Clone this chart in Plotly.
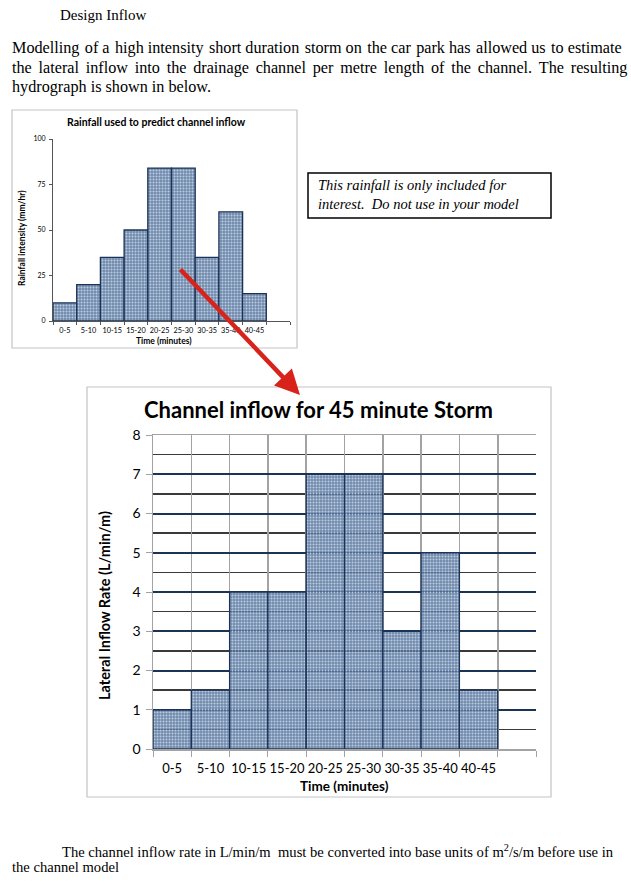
import plotly.graph_objects as go

W, H = 631, 885

# ---- data ----
time_bins = ["0-5", "5-10", "10-15", "15-20", "20-25", "25-30", "30-35", "35-40", "40-45", " "]
rainfall = [10, 20, 35, 50, 84, 84, 35, 60, 15, None]
inflow = [1, 1.5, 4, 4, 7, 7, 3, 5, 1.5, None]
rain_ticks = [0, 25, 50, 75, 100]
inflow_ticks = [0, 1, 2, 3, 4, 5, 6, 7, 8]


def px(x):
    return x / W


def py(y):
    return 1 - y / H


SERIF = "Liberation Serif"
SANS = "Lato"
NAVY = "#1c3358"
HS = "\u200a"  # hair space used to mimic justified text

fig = go.Figure()

bar_marker = dict(
    color="rgba(78,110,152,0.8)",
    line=dict(color=NAVY, width=1.3),
    pattern=dict(shape=".", fgcolor="#bccbdd", bgcolor="rgba(78,110,152,0.8)",
                 size=3, solidity=0.35),
)

fig.add_trace(go.Bar(x=time_bins, y=rainfall, width=1, marker=bar_marker,
                     xaxis="x", yaxis="y", showlegend=False, hoverinfo="skip"))
fig.add_trace(go.Bar(x=time_bins, y=inflow, width=1, marker=bar_marker,
                     xaxis="x2", yaxis="y2", showlegend=False, hoverinfo="skip"))


def justify(line, every=1):
    words = line.split(" ")
    out = words[0]
    for i, w in enumerate(words[1:]):
        out += (" " + HS if i % every == 0 else " ") + w
    return out


ann = []
# page text
ann.append(dict(text="Design Inflow", x=px(58), y=py(15), xanchor="left", yanchor="middle",
                font=dict(family=SERIF, size=15, color="black")))
para = [
    justify("Modelling of a high intensity short duration storm on the car park has allowed us to estimate", 2),
    (" " + HS + HS).join("the lateral inflow into the drainage channel per metre length of the channel. The resulting".split(" ")),
    "hydrograph is shown in below.",
]
for i, t in enumerate(para):
    ann.append(dict(text=t, x=px(10), y=py(48 + i * 19.5), xanchor="left", yanchor="middle",
                    font=dict(family=SERIF, size=16.2, color="black")))
ann.append(dict(text="The channel inflow rate in L/min/m\u00a0 must be converted into base units of m<sup>2</sup>/s/m before use in",
                x=px(60), y=py(851), xanchor="left", yanchor="middle",
                font=dict(family=SERIF, size=14.6, color="black")))
ann.append(dict(text="the channel model", x=px(10), y=py(867), xanchor="left", yanchor="middle",
                font=dict(family=SERIF, size=14.6, color="black")))

# note box text
ann.append(dict(text="This rainfall is only included for<br>interest.\u00a0 Do not use in your model",
                x=px(316), y=py(195), xanchor="left", yanchor="middle", align="left",
                font=dict(family=SERIF, size=14.5, color="black", style="italic")))

# small chart titles
ann.append(dict(text="<b>Rainfall used to predict channel inflow</b>", x=px(156), y=py(122),
                xanchor="center", yanchor="middle", font=dict(family=SANS, size=10.5, color="black")))
ann.append(dict(text="<b>Rainfall intensity (mm/hr)</b>", x=px(22), y=py(238), textangle=-90,
                xanchor="center", yanchor="middle", font=dict(family=SANS, size=8.5, color="black")))
ann.append(dict(text="<b>Time (minutes)</b>", x=px(164), y=py(341),
                xanchor="center", yanchor="middle", font=dict(family=SANS, size=8.5, color="black")))

# big chart titles
ann.append(dict(text="<b>Channel inflow for 45 minute Storm</b>", x=px(318), y=py(410),
                xanchor="center", yanchor="middle", font=dict(family=SANS, size=22, color="black")))
ann.append(dict(text="<b>Lateral Inflow Rate (L/min/m)</b>", x=px(104), y=py(606), textangle=-90,
                xanchor="center", yanchor="middle", font=dict(family=SANS, size=14.5, color="black")))
ann.append(dict(text="<b>Time (minutes)</b>", x=px(344), y=py(786),
                xanchor="center", yanchor="middle", font=dict(family=SANS, size=13.5, color="black")))

# arrow (tail offset in pixels relative to head)
ann.append(dict(text="", x=px(300), y=py(395), ax=-121, ay=-127,
                xref="paper", yref="paper", axref="pixel", ayref="pixel",
                showarrow=True, arrowhead=2, arrowsize=1.1, arrowwidth=4.5, arrowcolor="#d8231b"))

for a in ann:
    a.setdefault("xref", "paper")
    a.setdefault("yref", "paper")
    a.setdefault("showarrow", False)

shapes = [
    dict(type="rect", xref="paper", yref="paper", x0=px(12), x1=px(297), y0=py(110), y1=py(348),
         line=dict(color="#c4c4c4", width=1.2), layer="below"),
    dict(type="rect", xref="paper", yref="paper", x0=px(87), x1=px(551), y0=py(387), y1=py(797),
         line=dict(color="#c4c4c4", width=1.2), layer="below"),
    dict(type="rect", xref="paper", yref="paper", x0=px(308), x1=px(551), y0=py(173), y1=py(218),
         line=dict(color="black", width=1.5)),
]

fig.update_layout(
    template="none",
    width=W, height=H, margin=dict(l=0, r=0, t=0, b=0, pad=0),
    paper_bgcolor="white", plot_bgcolor="white",
    bargap=0, annotations=ann, shapes=shapes,
    xaxis=dict(domain=[px(53), px(290)], type="category", categoryorder="array",
               categoryarray=time_bins, range=[-0.5, 9.5], tickson="boundaries",
               showgrid=False, showline=True, linecolor="#555", linewidth=1,
               ticks="outside", ticklen=3, tickcolor="#555", tickangle=0, automargin=False,
               ticklabelstandoff=2,
               tickfont=dict(family=SANS, size=7.3, color="black"), anchor="y", fixedrange=True),
    yaxis=dict(domain=[py(321), py(139)], range=[0, 100], tickvals=rain_ticks,
               showgrid=False, zeroline=False, showline=True, linecolor="#555", linewidth=1,
               ticks="outside", ticklen=3, tickcolor="#555", automargin=False,
               ticklabelstandoff=2,
               tickfont=dict(family=SANS, size=7, color="black"), anchor="x", fixedrange=True),
    xaxis2=dict(domain=[px(153), px(536)], type="category", categoryorder="array",
                categoryarray=time_bins, range=[-0.5, 9.5], tickson="boundaries",
                showgrid=True, gridcolor="#a3a3a3", gridwidth=1.6,
                showline=True, linecolor="#a3a3a3", linewidth=1.5, mirror=True,
                ticks="outside", ticklen=6, tickcolor="#a3a3a3", tickangle=0, automargin=False,
                ticklabelstandoff=7,
                tickfont=dict(family=SANS, size=13, color="black"), anchor="y2", fixedrange=True),
    yaxis2=dict(domain=[py(749), py(435)], range=[0, 8], tickvals=inflow_ticks,
                showgrid=True, gridcolor=NAVY, gridwidth=2, zeroline=False,
                showline=True, linecolor="#a3a3a3", linewidth=1.5, automargin=False,
                ticks="outside", ticklen=6, tickcolor="#a3a3a3", ticklabelstandoff=2,
                minor=dict(dtick=0.5, showgrid=True, gridcolor="#3a3a3a", gridwidth=1.4,
                           ticks=""),
                tickfont=dict(family=SANS, size=14, color="black"), anchor="x2", fixedrange=True),
)

fig.write_html("out.html", config={"displayModeBar": False, "staticPlot": True},
               post_script="document.body.style.margin='0';document.body.style.overflow='hidden';")
